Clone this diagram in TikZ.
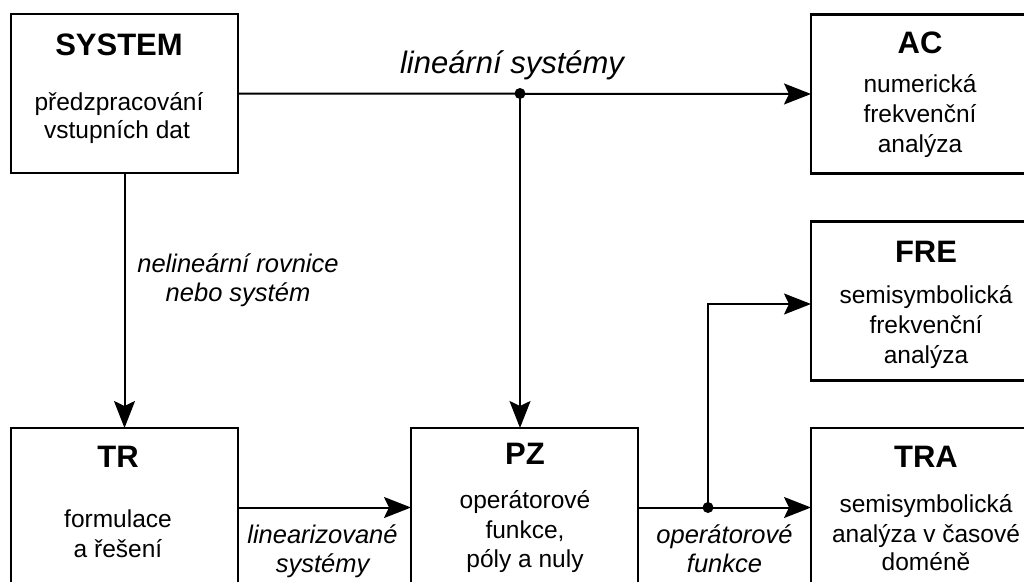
\documentclass[tikz,border=0pt]{standalone}
\usepackage{fontspec}
\setmainfont{Liberation Sans}
\usetikzlibrary{arrows.meta}
\begin{document}
\begin{tikzpicture}[x=1pt,y=-1pt,
  box/.style={draw,line width=2.3pt,minimum width=227pt,minimum height=159pt,inner sep=0pt,outer sep=0pt},
  ttl/.style={font=\fontsize{31}{36}\selectfont\bfseries,anchor=base,inner sep=0pt},
  txt/.style={font=\fontsize{24.5}{29}\selectfont,anchor=base,inner sep=0pt},
  lbl/.style={font=\fontsize{25.5}{29}\selectfont\itshape,anchor=base,inner sep=0pt},
  biglbl/.style={font=\fontsize{31}{36}\selectfont\itshape,anchor=base,inner sep=0pt},
  conn/.style={line width=2pt,-{Stealth[length=27pt,width=21pt,inset=5pt]}},
  wire/.style={line width=2pt},
  dot/.style={circle,fill,inner sep=0pt,minimum size=11pt}]
\useasboundingbox (0,0) rectangle (1024,581);
\clip (0,0) rectangle (1024,581);
\fill[white] (0,0) rectangle (1024,581);

% boxes
\node[box] (SYS) at (124.5,93.5) {};
\node[box] (AC)  at (924.5,94) {};
\node[box] (FRE) at (924.5,301) {};
\node[box] (TRA) at (924.5,507.5) {};
\node[box] (TR)  at (124.5,507.5) {};
\node[box] (PZ)  at (524.5,507.5) {};

% texts in boxes
\node[ttl] (sysT) at (119,55) {SYSTEM};
\node[txt] (sys1) at (119,110) {předzpracování};
\node[txt] (sys2) at (117,138) {vstupních dat};

\node[ttl] (acT) at (920,53) {AC};
\node[txt] (ac1) at (920,92) {numerická};
\node[txt] (ac2) at (920,122) {frekvenční};
\node[txt] (ac3) at (920,152) {analýza};

\node[ttl] (freT) at (926,262) {FRE};
\node[txt] (fre1) at (926,303) {semisymbolická};
\node[txt] (fre2) at (926,333) {frekvenční};
\node[txt] (fre3) at (926,363) {analýza};

\node[ttl] (traT) at (926,467) {TRA};
\node[txt] (tra1) at (926,512) {semisymbolická};
\node[txt] (tra2) at (926,542) {analýza v časové};
\node[txt] (tra3) at (926,570) {doméně};

\node[ttl] (trT) at (118,467) {TR};
\node[txt] (tr1) at (118,527) {formulace};
\node[txt] (tr2) at (118,557) {a řešení};

\node[ttl] (pzT) at (525,464) {PZ};
\node[txt] (pz1) at (525,508) {operátorové};
\node[txt] (pz2) at (525,538) {funkce,};
\node[txt] (pz3) at (525,567) {póly a nuly};

% labels
\node[biglbl] (l1) at (512,73) {lineární systémy};
\node[lbl] (l2a) at (238,272) {nelineární rovnice};
\node[lbl] (l2b) at (238,301) {nebo systém};
\node[lbl] (l3a) at (322.5,543) {linearizované};
\node[lbl] (l3b) at (322.5,572) {systémy};
\node[lbl] (l4a) at (724.5,543) {operátorové};
\node[lbl] (l4b) at (724.5,572) {funkce};

% junctions
\node[dot] (j1) at (520,93.5) {};
\node[dot] (j2) at (708,507.5) {};
\coordinate (c2) at (708,304);

% connectors
\draw[conn] (SYS.east) -- (AC.west);
\draw[conn] (j1.center) -- (j1.center |- PZ.north);
\draw[conn] (SYS.south) -- (TR.north);
\draw[conn] (TR.east) -- (PZ.west);
\draw[conn] (PZ.east) -- (TRA.west);
\draw[conn] (j2.center) -- (c2) -- (c2 -| FRE.west);
\end{tikzpicture}
\end{document}
